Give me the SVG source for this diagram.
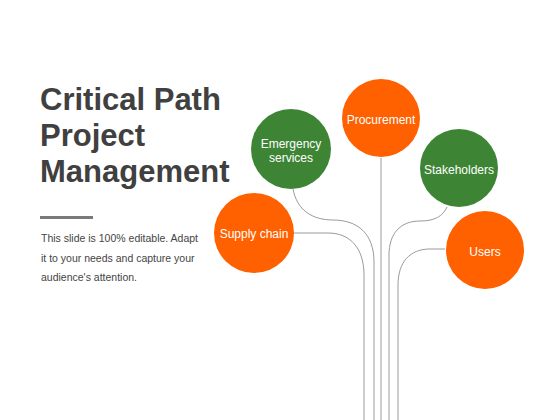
<svg xmlns="http://www.w3.org/2000/svg" width="560" height="420" viewBox="0 0 560 420">
<style>
.title{font-family:"Liberation Sans",Arial,sans-serif;font-weight:bold;font-size:31px;fill:#404040}
.body{font-family:"Liberation Sans",Arial,sans-serif;font-size:10.5px;fill:#444444}
.lbl{font-family:"Liberation Sans",Arial,sans-serif;font-size:12px;fill:#ffffff;text-anchor:middle}
.org{fill:#FF6000}
.grn{fill:#3D8535}
.conn{fill:none;stroke:#9a9a9a;stroke-width:1}
</style>
<rect width="560" height="420" fill="#ffffff"/>
<g id="heading">
<text class="title" x="40" y="110">Critical Path</text>
<text class="title" x="40" y="146">Project</text>
<text class="title" x="40" y="182">Management</text>
<rect x="40" y="216" width="53" height="3" fill="#7a7a7a"/>
<text class="body" x="41" y="242">This slide is 100% editable. Adapt</text>
<text class="body" x="41" y="262">it to your needs and capture your</text>
<text class="body" x="41" y="281">audience's attention.</text>
</g>
<g id="connectors">
<path class="conn" d="M294,233 H328 C350,233 364,248 364,275 V420"/>
<path class="conn" d="M293,189 C297,210 312,220 333,220 C358,220 374,234 374,262 V420"/>
<path class="conn" d="M381,158 V420"/>
<path class="conn" d="M447,207 C443,216 435,221 420,221 C400,221 389,234 389,255 V420"/>
<path class="conn" d="M445,249 H430 C410,249 398,262 398,285 V420"/>
</g>
<g id="procurement">
<circle class="org" cx="381" cy="118" r="39"/>
<text class="lbl" x="381" y="124">Procurement</text>
</g>
<g id="emergency-services">
<circle class="grn" cx="291" cy="149" r="40"/>
<text class="lbl" x="291" y="148">Emergency</text>
<text class="lbl" x="291" y="162">services</text>
</g>
<g id="stakeholders">
<circle class="grn" cx="459" cy="168" r="39"/>
<text class="lbl" x="459" y="174">Stakeholders</text>
</g>
<g id="supply-chain">
<circle class="org" cx="254" cy="233" r="40"/>
<text class="lbl" x="254" y="238">Supply chain</text>
</g>
<g id="users">
<circle class="org" cx="485" cy="250" r="39"/>
<text class="lbl" x="485" y="256">Users</text>
</g>
</svg>
